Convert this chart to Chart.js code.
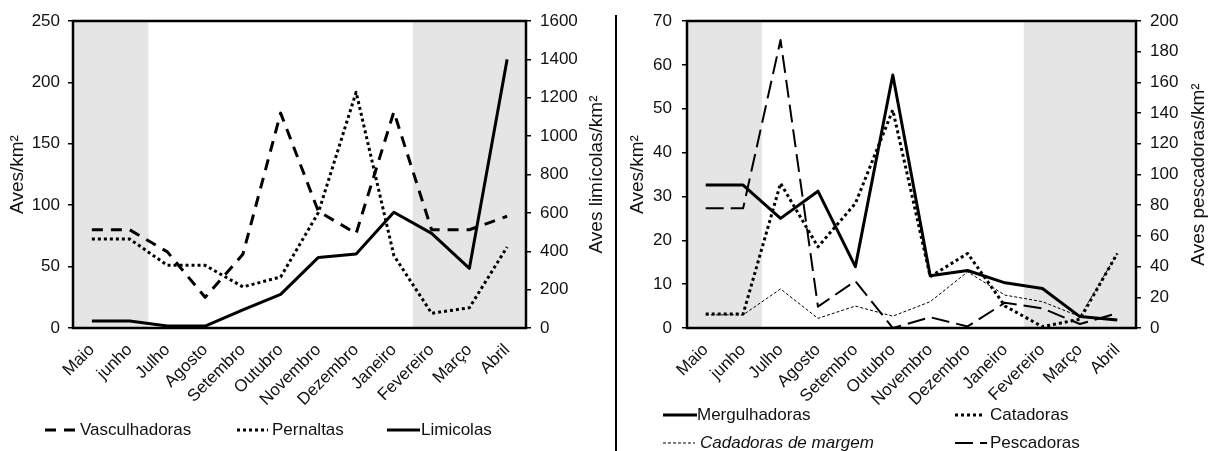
<!DOCTYPE html>
<html>
<head>
<meta charset="utf-8">
<script src="https://cdn.jsdelivr.net/npm/chart.js@4.4.0/dist/chart.umd.min.js"></script>
<style>
  html, body { margin: 0; padding: 0; background: #fff; }
  #wrap { position: relative; width: 1210px; height: 451px; overflow: hidden; }
  .box { position: absolute; top: 0; height: 451px; }
  #left { left: 0; width: 612px; }
  #right { left: 620px; width: 590px; }
  #sep { position: absolute; left: 615px; top: 15px; width: 2px; height: 436px; background: #000; }
</style>
</head>
<body>
<div id="wrap">
  <div class="box" id="left"><canvas id="c1"></canvas></div>
  <div id="sep"></div>
  <div class="box" id="right"><canvas id="c2"></canvas></div>
</div>
<script>
const TEXT = '#111';
const FONT = "'Liberation Sans', Arial, sans-serif";

const months = ['Maio', 'junho', 'Julho', 'Agosto', 'Setembro', 'Outubro', 'Novembro',
  'Dezembro', 'Janeiro', 'Fevereiro', 'Março', 'Abril'];
const shadedMonths = [[0, 1], [9, 11]]; // first/last month index of grey bands

// left panel (Aves/km² and Aves limícolas/km²)
const vasculhadoras = [80, 80, 62, 25, 60, 175, 95, 77, 176, 80, 80, 91];
const pernaltas = [72.5, 72.5, 51, 51, 33.5, 41.5, 94, 192, 59, 12, 16.5, 66];
const limicolas = [37, 37, 10, 10, 95, 175, 368, 386, 603, 493, 311, 1400];

// right panel (Aves/km² and Aves pescadoras/km²)
const mergulhadoras = [32.6, 32.6, 25, 31.2, 14, 57.7, 11.9, 13.1, 10.3, 9, 2.6, 1.8];
const catadoras = [3.2, 3.2, 33, 18.5, 28.4, 49.7, 11.7, 17, 5, 0.3, 2, 17];
const cadadorasMargem = [3, 3, 8.9, 2.2, 5, 2.7, 6, 12.8, 7.5, 6, 2.6, 17];
const pescadoras = [78, 78, 187.6, 13.9, 30.6, 0, 7, 1, 16.5, 12.8, 2.6, 9.6];

const decor = {
  id: 'decor',
  beforeDraw(chart) {
    const { ctx, chartArea: a } = chart;
    const x = chart.scales.x;
    ctx.save();
    ctx.fillStyle = '#e5e5e5';
    for (const [s, e] of shadedMonths) {
      const x0 = Math.max(a.left, x.getPixelForValue(s - 0.5));
      const x1 = Math.min(a.right, x.getPixelForValue(e + 0.5));
      ctx.fillRect(x0, a.top, x1 - x0, a.bottom - a.top);
    }
    ctx.restore();
  },
  afterDraw(chart, args, o) {
    const { ctx, chartArea: a } = chart;
    ctx.save();
    ctx.strokeStyle = '#000';
    ctx.lineWidth = 2.5;
    ctx.strokeRect(a.left, a.top, a.right - a.left, a.bottom - a.top);

    // axis titles, both read bottom to top
    ctx.fillStyle = TEXT;
    ctx.font = `19px ${FONT}`;
    ctx.textAlign = 'center';
    ctx.textBaseline = 'middle';
    for (const t of o.titles) {
      ctx.save();
      ctx.translate(t.x, (a.top + a.bottom) / 2);
      ctx.rotate(-Math.PI / 2);
      ctx.fillText(t.text, 0, 0);
      ctx.restore();
    }

    // legend
    ctx.textAlign = 'left';
    for (const it of o.legend) {
      const ds = chart.data.datasets[it.ds];
      ctx.save();
      ctx.strokeStyle = ds.borderColor;
      ctx.lineWidth = ds.borderWidth;
      ctx.setLineDash(ds.borderDash || []);
      ctx.beginPath();
      ctx.moveTo(it.x0, it.y);
      ctx.lineTo(it.x1, it.y);
      ctx.stroke();
      ctx.restore();
      ctx.font = `${it.italic ? 'italic ' : ''}17px ${FONT}`;
      ctx.fillText(ds.label, it.tx, it.y);
    }
    ctx.restore();
  }
};

function yAxis(position, max, step, width, pad) {
  return {
    position, min: 0, max,
    ticks: { stepSize: step, padding: pad, color: TEXT, font: { family: FONT, size: 17 },
      callback: v => String(v) },
    grid: { drawOnChartArea: false, tickLength: 5, color: '#000', lineWidth: 1.5 },
    border: { display: false },
    afterFit(s) { s.width = width; }
  };
}

function xAxis() {
  return {
    offset: true,
    grid: { display: false },
    border: { display: false },
    ticks: { autoSkip: false, maxRotation: 45, minRotation: 45, padding: 4, color: TEXT,
      font: { family: FONT, size: 17 } },
    afterFit(s) { s.height = 123; }
  };
}

function line(label, data, width, dash, axis) {
  return {
    label, data, yAxisID: axis,
    borderColor: '#000', borderWidth: width, borderDash: dash,
    pointRadius: 0, tension: 0, fill: false,
    borderJoinStyle: 'round'
  };
}

function makeChart(id, datasets, scales, decorOpts) {
  return new Chart(document.getElementById(id), {
    type: 'line',
    data: { labels: months, datasets },
    options: {
      responsive: true,
      maintainAspectRatio: false,
      animation: false,
      layout: { padding: { top: 21, left: 0, right: 0, bottom: 0 } },
      scales,
      plugins: { legend: { display: false }, tooltip: { enabled: false }, decor: decorOpts }
    },
    plugins: [decor]
  });
}

makeChart('c1', [
  line('Vasculhadoras', vasculhadoras, 3, [11, 8], 'y'),
  line('Pernaltas', pernaltas, 3, [3, 3], 'y'),
  line('Limicolas', limicolas, 3, [], 'y1')
], {
  x: xAxis(),
  y: yAxis('left', 250, 50, 73, 8),
  y1: yAxis('right', 1600, 200, 86, 9)
}, {
  titles: [{ text: 'Aves/km²', x: 18 }, { text: 'Aves limícolas/km²', x: 597 }],
  legend: [
    { ds: 0, x0: 45, x1: 76, tx: 80, y: 430 },
    { ds: 1, x0: 237, x1: 268, tx: 272, y: 430 },
    { ds: 2, x0: 387, x1: 420, tx: 421, y: 430 }
  ]
});

makeChart('c2', [
  line('Mergulhadoras', mergulhadoras, 3, [], 'y'),
  line('Catadoras', catadoras, 3, [3, 3], 'y'),
  line('Cadadoras de margem', cadadorasMargem, 1, [3, 2], 'y'),
  line('Pescadoras', pescadoras, 2, [18, 7], 'y1')
], {
  x: xAxis(),
  y: yAxis('left', 70, 10, 67, 10),
  y1: yAxis('right', 200, 20, 74, 9)
}, {
  titles: [{ text: 'Aves/km²', x: 18 }, { text: 'Aves pescadoras/km²', x: 579 }],
  legend: [
    { ds: 0, x0: 43, x1: 77, tx: 77, y: 415 },
    { ds: 1, x0: 335, x1: 365, tx: 370, y: 415 },
    { ds: 2, x0: 43, x1: 75, tx: 80, y: 443, italic: true },
    { ds: 3, x0: 335, x1: 367, tx: 370, y: 443 }
  ]
});
</script>
</body>
</html>
